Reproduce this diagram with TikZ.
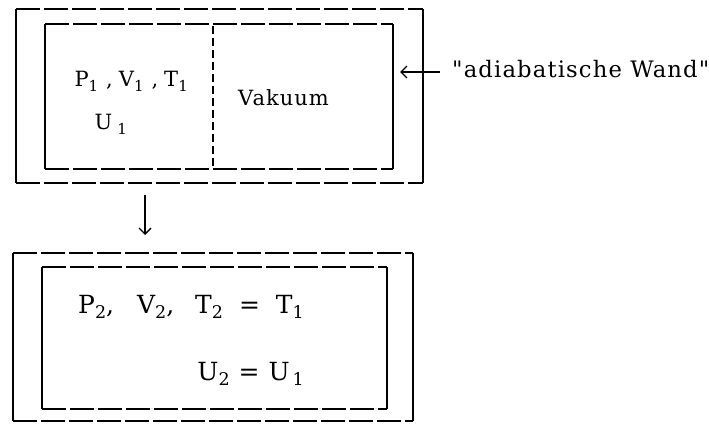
\documentclass[tikz,border=0pt]{standalone}
\usepackage{fontspec}
\usetikzlibrary{arrows.meta}
\newfontfamily\tw[LetterSpace=5]{DejaVu Serif}
\newcommand{\sbs}[1]{\raisebox{-0.2em}{\fontsize{15}{15}\selectfont #1}}
\newcommand{\sbb}[1]{\raisebox{-0.2em}{\fontsize{17.5}{17.5}\selectfont #1}}
\begin{document}
\begin{tikzpicture}[x=1pt,y=-1pt,
  wall/.style={line width=1.4pt},
  dwall/.style={line width=1.4pt,dash pattern=on 24pt off 4pt},
  lbl/.style={font=\tw\fontsize{21}{25}\selectfont, inner sep=0pt, anchor=base west},
  lblb/.style={font=\tw\fontsize{25}{29}\selectfont, inner sep=0pt, anchor=base west},
  big/.style={font=\tw\fontsize{22.7}{26}\selectfont, inner sep=0pt, anchor=base west},
  arr/.style={line width=1.3pt,-{Straight Barb[length=6pt,width=12pt]}}]
\useasboundingbox (0,0) rectangle (709,425);
% top container
\draw[wall] (16,9) -- (16,183);
\draw[wall] (423,9) -- (423,183);
\draw[dwall] (16,9) -- (423,9);
\draw[dwall] (16,183) -- (423,183);
\draw[wall] (45,24) -- (45,169);
\draw[wall] (393,24) -- (393,169);
\draw[dwall] (45,24) -- (393,24);
\draw[dwall] (45,169) -- (393,169);
\draw[line width=1.3pt,dash pattern=on 8pt off 4pt] (213,26) -- (213,169);
\node[lbl,anchor=base east] (p1) at (188,87) {P\sbs{1}\hspace{8pt},\hspace{6pt}V\sbs{1}\hspace{8pt},\hspace{6pt}T\sbs{1}};
\node[lbl,anchor=base east] (u1) at (127,130) {U\hspace{5pt}\sbs{1}};
\node[lbl] (vak) at (238,106) {Vakuum};
\node[big] (wand) at (452,78) {"adiabatische Wand"};
\coordinate (wallpt) at (400,72);
\coordinate (tail) at (440,72);
\draw[arr] (tail) -- (wallpt);
% transition arrow
\coordinate (a1) at (145,195);
\coordinate (a2) at (145,235);
\draw[arr] (a1) -- (a2);
% bottom container
\draw[wall] (13,253) -- (13,421);
\draw[wall] (413,253) -- (413,421);
\draw[dwall] (13,253) -- (413,253);
\draw[dwall] (13,421) -- (413,421);
\draw[wall] (42,267) -- (42,409);
\draw[wall] (387,267) -- (387,409);
\draw[dwall] (42,267) -- (387,267);
\draw[dwall] (42,409) -- (387,409);
\node[lblb] (p2) at (78,313) {P\sbb{2},\hspace{23pt}V\sbb{2},\hspace{21pt}T\sbb{2}\hspace{16pt}=\hspace{16pt}T\sbb{1}};
\node[lblb,anchor=base east] (u2) at (304,380) {U\sbb{2}\hspace{9pt}=\hspace{9pt}U\hspace{3pt}\sbb{1}};
\end{tikzpicture}
\end{document}
